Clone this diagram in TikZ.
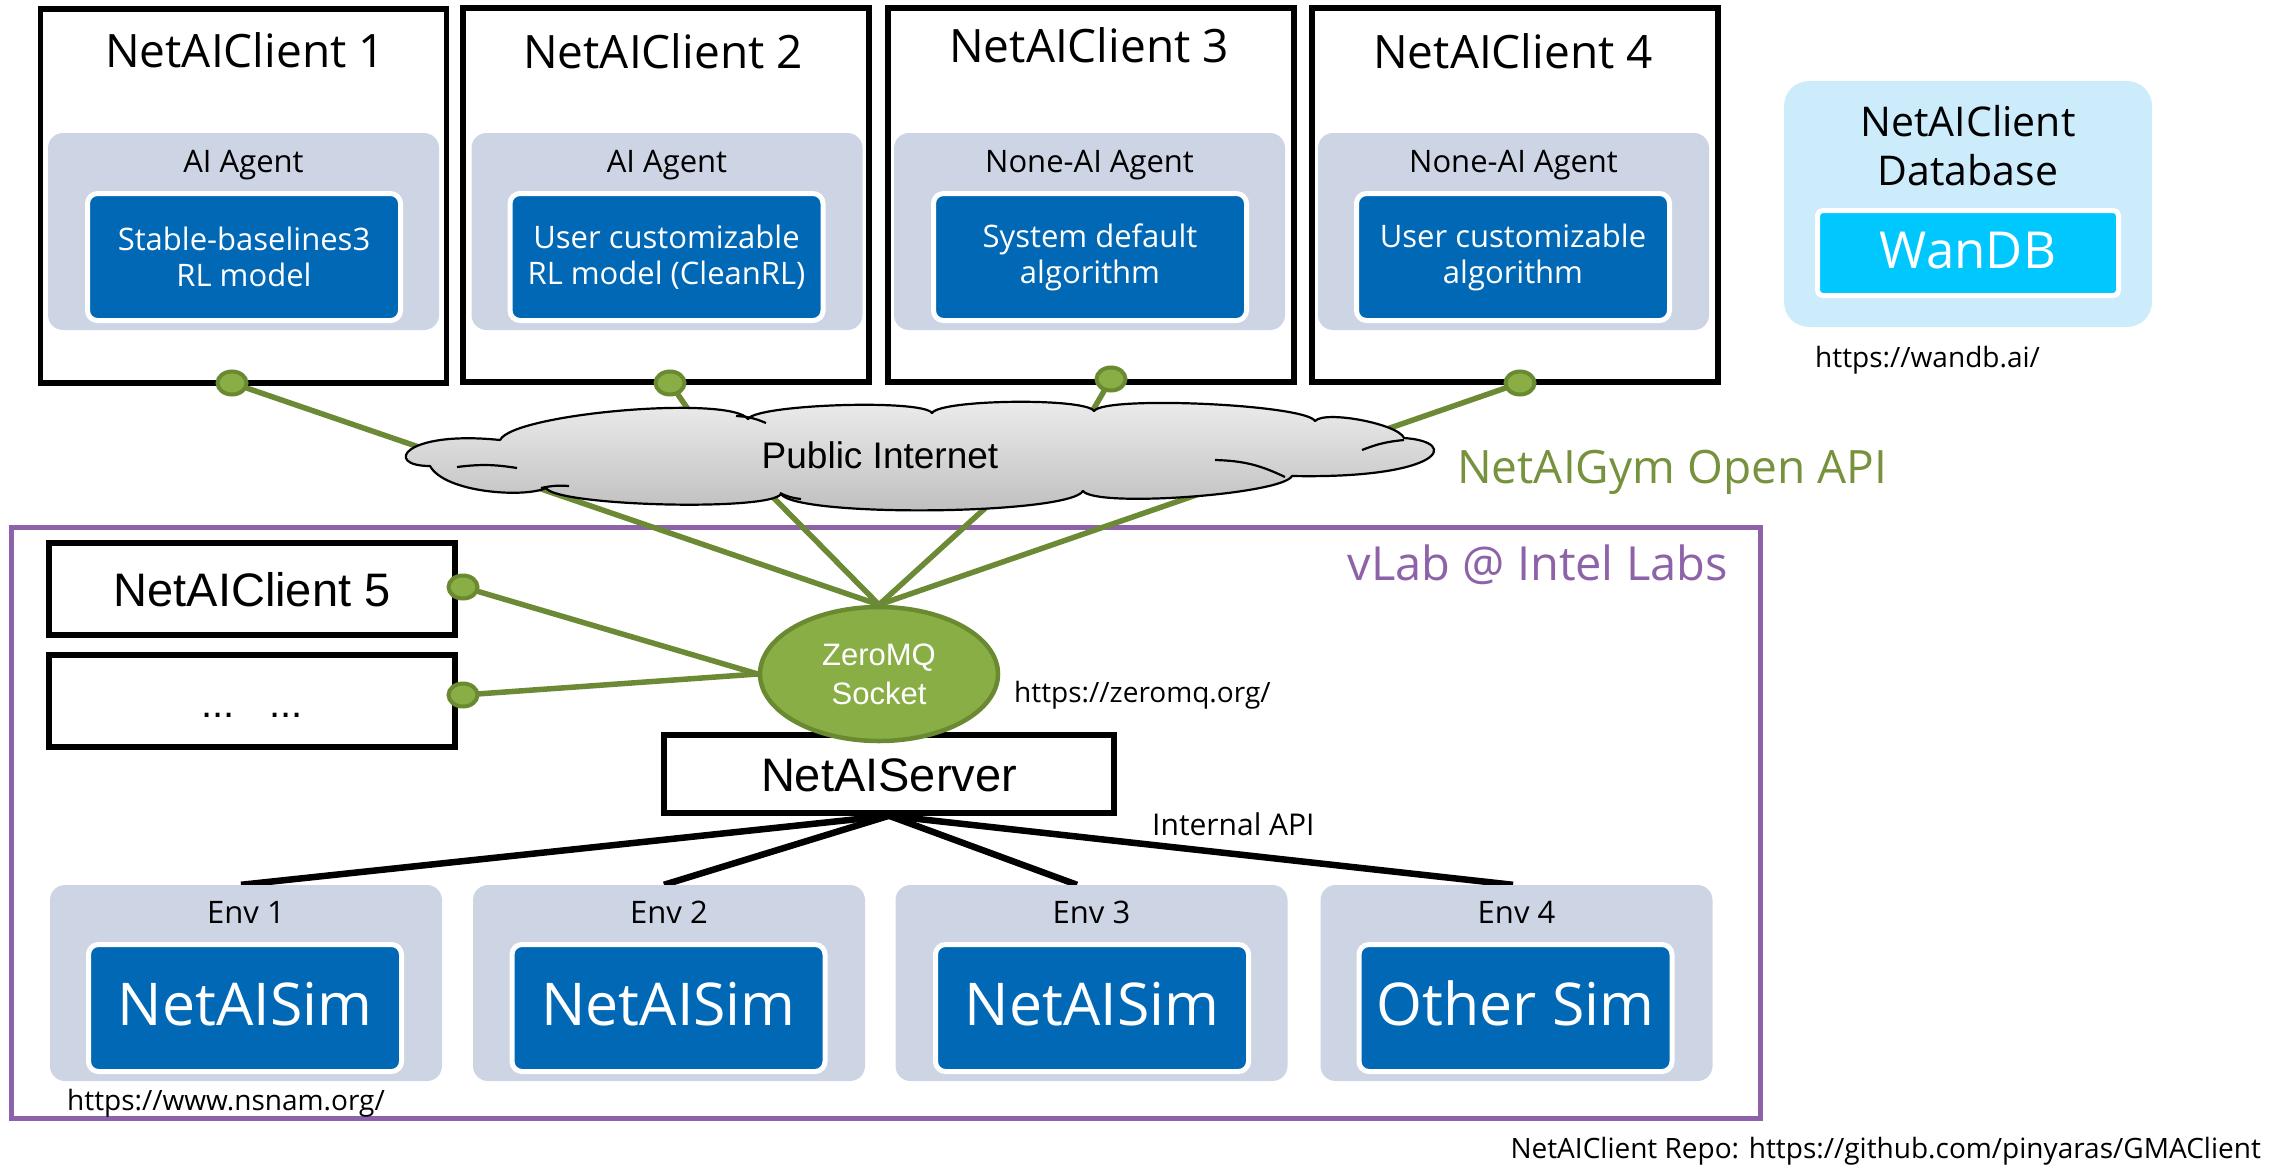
\documentclass[tikz,border=0pt]{standalone}
\usepackage{fontspec}
\setmainfont{Open Sans}
\newfontfamily\arialf{Liberation Sans}
\usetikzlibrary{shapes.geometric}
\definecolor{agentgrey}{HTML}{CDD5E4}
\definecolor{intelblue}{HTML}{0068B5}
\definecolor{dbblue}{HTML}{CCECFC}
\definecolor{wandbcyan}{HTML}{00C7FD}
\definecolor{olivefill}{HTML}{8AAE46}
\definecolor{olivedraw}{HTML}{6A8A31}
\definecolor{olivetext}{HTML}{76923C}
\definecolor{oliveline}{HTML}{6C8A35}
\definecolor{purp}{HTML}{8E62A8}
\definecolor{cloudtop}{HTML}{EEEEEE}
\definecolor{cloudbot}{HTML}{BDBDBD}
\newcommand\fsz[2]{\fontsize{#1pt}{#2pt}\selectfont}
\pgfdeclarelayer{bg}
\pgfdeclarelayer{lines}
\pgfsetlayers{bg,lines,main}
\begin{document}
\begin{tikzpicture}[x=1pt,y=-1pt,
  client/.style={draw=black, line width=5.5pt, fill=white, minimum width=406pt, minimum height=374pt, inner sep=0pt},
  agent/.style={fill=agentgrey, rounded corners=15pt, minimum width=391pt, minimum height=197pt, inner sep=0pt},
  envbox/.style={fill=agentgrey, rounded corners=15pt, minimum width=392pt, minimum height=196pt, inner sep=0pt},
  bluebox/.style={fill=intelblue, draw=white, line width=5pt, rounded corners=10pt, minimum width=313pt, minimum height=127pt, text=white, align=center, font=\fsz{31}{36}, inner sep=0pt},
  simbox/.style={bluebox, font=\fsz{59}{59}, text height=42pt, text depth=8pt},
  title/.style={font=\fsz{46}{46}, anchor=base, inner sep=0pt},
  lbl/.style={font=\fsz{31}{31}, anchor=base, inner sep=0pt},
  url/.style={font=\fsz{28}{28}, inner sep=0pt},
  dot/.style={ellipse, fill=olivefill, draw=olivedraw, line width=4pt, minimum width=29pt, minimum height=23pt, inner sep=0pt},
  gline/.style={draw=oliveline, line width=5.5pt},
  bline/.style={draw=black, line width=6.5pt},
  plainbox/.style={draw=black, line width=5.5pt, fill=white, inner sep=0pt},
  puff/.style={out=58,in=122,relative,distance=#1}
]
\useasboundingbox (0,0) rectangle (2290,1164);

% vLab container
\begin{pgfonlayer}{bg}
\node[draw=purp, line width=5pt, minimum width=1749pt, minimum height=591pt, inner sep=0pt] (vlab) at (885.5,822.5) {};
\end{pgfonlayer}
\node[font=\fsz{47}{47}, text=purp, anchor=base east, inner sep=0pt] (vlabt) at (1728,580) {vLab @ Intel Labs};

% client boxes
\node[client] (c1) at (243.5,196) {};
\node[client] (c2) at (666,195) {};
\node[client] (c3) at (1091,195) {};
\node[client] (c4) at (1515,195) {};
\node[title] (t1) at (245,67) {NetAIClient 1};
\node[title] (t2) at (663,68) {NetAIClient 2};
\node[title] (t3) at (1089,63) {NetAIClient 3};
\node[title] (t4) at (1513,68) {NetAIClient 4};

\node[agent] (a1) at (243.5,231.5) {};
\node[agent] (a2) at (667,231.5) {};
\node[agent] (a3) at (1089.5,231.5) {};
\node[agent] (a4) at (1513.5,231.5) {};
\node[lbl] (l1) at (243.5,172) {AI Agent};
\node[lbl] (l2) at (667,172) {AI Agent};
\node[lbl] (l3) at (1089.5,172) {None-AI Agent};
\node[lbl] (l4) at (1513.5,172) {None-AI Agent};
\node[bluebox] (b1) at (244,257) {Stable-baselines3\\RL model};
\node[bluebox] (b2) at (666.5,257) {User customizable\\RL model (CleanRL)};
\node[bluebox] (b3) at (1090,257) {System default\\algorithm};
\node[bluebox] (b4) at (1513,257) {User customizable\\algorithm};

% database
\node[fill=dbblue, rounded corners=25pt, minimum width=368pt, minimum height=246pt, inner sep=0pt] (db) at (1968,204) {};
\node[font=\fsz{41}{41}, anchor=base, inner sep=0pt] (dbt1) at (1968,136) {NetAIClient};
\node[font=\fsz{41}{41}, anchor=base, inner sep=0pt] (dbt2) at (1968,185) {Database};
\node[fill=wandbcyan, draw=white, line width=5pt, rounded corners=5pt, minimum width=301pt, minimum height=85pt, text=white, font=\fsz{51}{51}, text height=36pt, text depth=6pt, inner sep=0pt] (wandb) at (1968,253) {WanDB};
\node[url, anchor=base west] (uw) at (1815,367) {https://wandb.ai/};

% local clients and server
\node[plainbox, minimum width=406pt, minimum height=92pt, font=\arialf\fsz{47}{47}, text height=34pt, text depth=0pt] (c5) at (252,589) {NetAIClient 5};
\node[plainbox, minimum width=406pt, minimum height=92pt, font=\arialf\fsz{40}{40}, text height=32pt, text depth=0pt] (c6) at (252,701) {...\hspace{34pt}...};
\node[plainbox, minimum width=450pt, minimum height=78pt, font=\arialf\fsz{47}{47}, text height=35pt, text depth=0pt] (srv) at (889,774) {NetAIServer};

% cloud
\path[draw=black, line width=2.2pt, line join=round, top color=cloudtop, bottom color=cloudbot]
  (430,466) .. controls (383,466) and (403,430) .. (500,440)
  to[puff=30pt] (748,419) to[puff=17pt] (932,413) to[puff=16pt] (1094,411)
  to[puff=19pt] (1315,421) to[puff=15pt] (1404,438)
  .. controls (1462,442) and (1442,479) .. (1292,476)
  to[puff=21pt] (1083,491) to[puff=28pt] (781,494) to[puff=21pt] (546,488)
  .. controls (525,498) and (445,493) .. (430,466) -- cycle;
\draw[line width=2.2pt] (457,467) to[bend left=8] (517,468);
\draw[line width=2.2pt] (1215,460) to[bend left=12] (1285,477);
\draw[line width=2.2pt] (1362,450) to[bend left=8] (1404,440);
\draw[line width=2.2pt] (736,416) to[bend left=10] (766,423);
\draw[line width=2.2pt] (541,488) to[bend left=8] (569,486);
\draw[line width=2.2pt] (780,493) to[bend right=10] (801,499);
\node[font=\arialf\fsz{37}{37}, anchor=base, inner sep=0pt] (inet) at (880,468) {Public Internet};

% dots
\node[dot] (d1) at (232,383) {};
\node[dot] (d2) at (670,383) {};
\node[dot] (d3) at (1111,379) {};
\node[dot] (d4) at (1520,383) {};
\node[dot] (d5) at (463,587) {};
\node[dot] (d6) at (463,695) {};

\node[font=\fsz{46}{46}, text=olivetext, anchor=base west, inner sep=0pt] (gym) at (1457,483) {NetAIGym Open API};

% socket
\node[ellipse, fill=olivefill, draw=olivedraw, line width=4.5pt, minimum width=238pt, minimum height=134pt, inner sep=0pt, text=white, align=center, font=\arialf\fsz{31}{39}] (zmq) at (879,674) {ZeroMQ\\Socket};
\node[url, anchor=base west] (uz) at (1014,702) {https://zeromq.org/};

\coordinate (k2) at (692,415);
\coordinate (k3) at (1093,410);

% envs
\node[envbox] (e1) at (246,983) {};
\node[envbox] (e2) at (669,983) {};
\node[envbox] (e3) at (1091.5,983) {};
\node[envbox] (e4) at (1516.5,983) {};
\node[lbl] (el1) at (246,923) {Env 1};
\node[lbl] (el2) at (669,923) {Env 2};
\node[lbl] (el3) at (1091.5,923) {Env 3};
\node[lbl] (el4) at (1516.5,923) {Env 4};
\node[simbox] (s1) at (245,1008) {NetAISim};
\node[simbox] (s2) at (668.5,1008) {NetAISim};
\node[simbox] (s3) at (1092,1008) {NetAISim};
\node[simbox] (s4) at (1515.5,1008) {Other Sim};

\node[font=\fsz{30}{30}, anchor=base west, inner sep=0pt] (iapi) at (1152,835) {Internal API};
\node[url, anchor=base west] (un) at (67,1110) {https://www.nsnam.org/};
\node[url, anchor=base east] (ur) at (2261,1158) {NetAIClient Repo: https://github.com/pinyaras/GMAClient};

% connectors
\begin{pgfonlayer}{lines}
\draw[gline] (d1.center) -- (zmq.north);
\draw[gline] (d2.center) -- (k2) -- (zmq.north);
\draw[gline] (d3.center) -- (k3) -- (zmq.north);
\draw[gline] (d4.center) -- (zmq.north);
\draw[gline] (d5.center) -- (zmq.west);
\draw[gline] (d6.center) -- (zmq.west);
\draw[bline] (srv.south) -- ([xshift=-5pt]e1.north);
\draw[bline] (srv.south) -- ([xshift=-5pt]e2.north);
\draw[bline] (srv.south) -- ([xshift=-14.5pt]e3.north);
\draw[bline] (srv.south) -- ([xshift=-3.5pt]e4.north);
\end{pgfonlayer}
\end{tikzpicture}
\end{document}
